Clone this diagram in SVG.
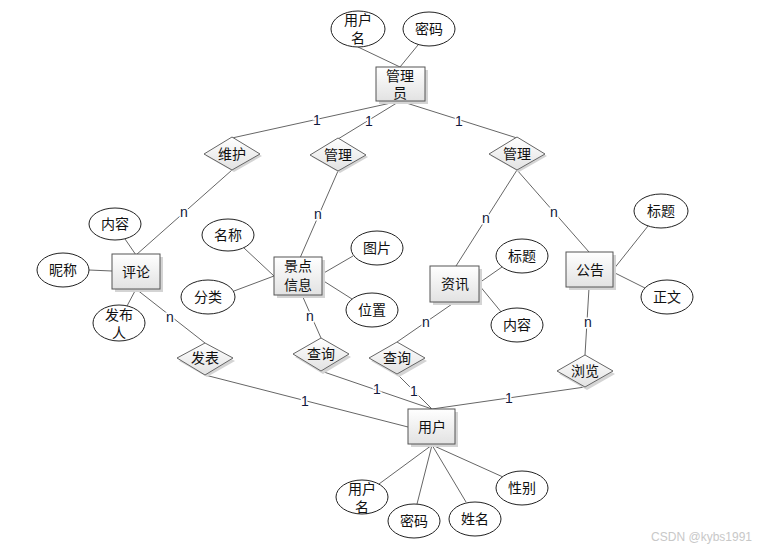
<svg xmlns="http://www.w3.org/2000/svg" width="768" height="550" viewBox="0 0 768 550">
<defs>
<linearGradient id="g" x1="0" y1="0" x2="0" y2="1"><stop offset="0" stop-color="#ffffff"/><stop offset="1" stop-color="#e2e2e2"/></linearGradient>
<style>
.e{fill:#fff;stroke:#222;stroke-width:1}
.b{fill:url(#g);stroke:#555;stroke-width:1}
.sh{fill:#d4d4d4}
.d{fill:url(#g);stroke:#666;stroke-width:1}
.t{font-family:"Liberation Sans","Noto Sans CJK SC",sans-serif;font-size:14px;fill:#111;text-anchor:middle;dominant-baseline:central}
.l{stroke:#666;stroke-width:1;fill:none}
.n{font-family:"Liberation Sans","Noto Sans CJK SC",sans-serif;font-size:14px;fill:#10183a;text-anchor:middle;dominant-baseline:central;stroke:#fff;stroke-width:3;paint-order:stroke}
.w{font-family:"Liberation Sans",sans-serif;font-size:12px;fill:#c8c8c8;text-anchor:end}
</style>
</defs>
<rect width="768" height="550" fill="#fff"/>
<g id="connectors">
<line class="l" x1="358" y1="47" x2="400" y2="67"/>
<line class="l" x1="418" y1="45" x2="400" y2="67"/>
<line class="l" x1="400" y1="101" x2="232" y2="138"/>
<line class="l" x1="400" y1="101" x2="338" y2="139"/>
<line class="l" x1="400" y1="101" x2="517" y2="138"/>
<line class="l" x1="232" y1="170" x2="136" y2="255"/>
<line class="l" x1="338" y1="171" x2="300" y2="258"/>
<line class="l" x1="517" y1="170" x2="456" y2="266"/>
<line class="l" x1="517" y1="170" x2="589" y2="252"/>
<line class="l" x1="125" y1="239" x2="136" y2="255"/>
<line class="l" x1="89" y1="270" x2="112" y2="271"/>
<line class="l" x1="127" y1="306" x2="136" y2="289"/>
<line class="l" x1="136" y1="289" x2="205" y2="343"/>
<line class="l" x1="205" y1="375" x2="408" y2="427"/>
<line class="l" x1="244" y1="248" x2="274" y2="276"/>
<line class="l" x1="234" y1="291" x2="274" y2="276"/>
<line class="l" x1="353" y1="256" x2="322" y2="274"/>
<line class="l" x1="352" y1="299" x2="322" y2="280"/>
<line class="l" x1="302" y1="295" x2="321" y2="338"/>
<line class="l" x1="321" y1="371" x2="432" y2="409"/>
<line class="l" x1="502" y1="267" x2="479" y2="283"/>
<line class="l" x1="502" y1="313" x2="479" y2="285"/>
<line class="l" x1="455" y1="302" x2="397" y2="342"/>
<line class="l" x1="397" y1="374" x2="432" y2="409"/>
<line class="l" x1="648" y1="226" x2="613" y2="270"/>
<line class="l" x1="645" y1="288" x2="613" y2="272"/>
<line class="l" x1="589" y1="288" x2="585" y2="355"/>
<line class="l" x1="585" y1="387" x2="432" y2="409"/>
<line class="l" x1="432" y1="445" x2="379" y2="484"/>
<line class="l" x1="432" y1="445" x2="417" y2="504"/>
<line class="l" x1="432" y1="445" x2="466" y2="502"/>
<line class="l" x1="432" y1="445" x2="503" y2="477"/>
<text class="n" x="317" y="120">1</text>
<text class="n" x="369" y="121">1</text>
<text class="n" x="459" y="121">1</text>
<text class="n" x="184" y="212">n</text>
<text class="n" x="318" y="214">n</text>
<text class="n" x="486" y="218">n</text>
<text class="n" x="554" y="212">n</text>
<text class="n" x="170" y="317">n</text>
<text class="n" x="310" y="316">n</text>
<text class="n" x="426" y="322">n</text>
<text class="n" x="588" y="322">n</text>
<text class="n" x="305" y="401">1</text>
<text class="n" x="377" y="389">1</text>
<text class="n" x="414" y="391">1</text>
<text class="n" x="509" y="398">1</text>
</g>
<g id="admin"><rect class="sh" x="379" y="70" width="49" height="34"/><rect class="b" x="376" y="67" width="49" height="34"/><text class="t" x="400" y="76">管理</text><text class="t" x="400" y="93">员</text></g>
<g id="admin-username"><ellipse class="e" cx="358" cy="29" rx="27" ry="18"/><text class="t" x="358" y="20">用户</text><text class="t" x="358" y="38">名</text></g>
<g id="admin-password"><ellipse class="e" cx="429" cy="29" rx="26" ry="17"/><text class="t" x="429" y="29">密码</text></g>
<g id="rel-weihu"><polygon class="sh" points="234,140 262,156 234,172 206,156"/><polygon class="d" points="232,137 260,154 232,170 204,154"/><text class="t" x="232" y="154">维护</text></g>
<g id="rel-guanli1"><polygon class="sh" points="340,141 368,157 340,173 312,157"/><polygon class="d" points="338,138 366,155 338,171 310,155"/><text class="t" x="338" y="155">管理</text></g>
<g id="rel-guanli2"><polygon class="sh" points="519,140 547,156 519,172 491,156"/><polygon class="d" points="517,137 545,154 517,170 489,154"/><text class="t" x="517" y="154">管理</text></g>
<g id="comment"><rect class="sh" x="115" y="257" width="48" height="35"/><rect class="b" x="112" y="254" width="48" height="35"/><text class="t" x="136" y="272">评论</text></g>
<g id="comment-content"><ellipse class="e" cx="115" cy="224" rx="26" ry="16"/><text class="t" x="115" y="224">内容</text></g>
<g id="comment-nick"><ellipse class="e" cx="63" cy="270" rx="26" ry="17"/><text class="t" x="63" y="270">昵称</text></g>
<g id="comment-author"><ellipse class="e" cx="119" cy="323" rx="26" ry="18"/><text class="t" x="119" y="315">发布</text><text class="t" x="119" y="333">人</text></g>
<g id="rel-fabiao"><polygon class="sh" points="207,346 235,361 207,377 179,361"/><polygon class="d" points="205,343 233,358 205,375 177,358"/><text class="t" x="205" y="358">发表</text></g>
<g id="scenic"><rect class="sh" x="277" y="260" width="48" height="38"/><rect class="b" x="274" y="257" width="48" height="38"/><text class="t" x="298" y="266">景点</text><text class="t" x="298" y="285">信息</text></g>
<g id="scenic-name"><ellipse class="e" cx="228" cy="235" rx="26" ry="16"/><text class="t" x="228" y="235">名称</text></g>
<g id="scenic-type"><ellipse class="e" cx="208" cy="297" rx="27" ry="17"/><text class="t" x="208" y="297">分类</text></g>
<g id="scenic-pic"><ellipse class="e" cx="377" cy="248" rx="26" ry="17"/><text class="t" x="377" y="248">图片</text></g>
<g id="scenic-loc"><ellipse class="e" cx="372" cy="310" rx="26" ry="17"/><text class="t" x="372" y="310">位置</text></g>
<g id="rel-query1"><polygon class="sh" points="323,341 351,357 323,374 295,357"/><polygon class="d" points="321,338 349,354 321,371 293,354"/><text class="t" x="321" y="354">查询</text></g>
<g id="news"><rect class="sh" x="433" y="269" width="49" height="36"/><rect class="b" x="430" y="266" width="49" height="36"/><text class="t" x="455" y="284">资讯</text></g>
<g id="news-title"><ellipse class="e" cx="522" cy="256" rx="26" ry="17"/><text class="t" x="522" y="256">标题</text></g>
<g id="news-content"><ellipse class="e" cx="517" cy="325" rx="26" ry="17"/><text class="t" x="517" y="325">内容</text></g>
<g id="rel-query2"><polygon class="sh" points="399,345 427,361 399,377 371,361"/><polygon class="d" points="397,342 425,358 397,374 369,358"/><text class="t" x="397" y="358">查询</text></g>
<g id="notice"><rect class="sh" x="569" y="255" width="47" height="35"/><rect class="b" x="566" y="252" width="47" height="35"/><text class="t" x="590" y="270">公告</text></g>
<g id="notice-title"><ellipse class="e" cx="661" cy="211" rx="27" ry="17"/><text class="t" x="661" y="211">标题</text></g>
<g id="notice-body"><ellipse class="e" cx="667" cy="297" rx="26" ry="17"/><text class="t" x="667" y="297">正文</text></g>
<g id="rel-browse"><polygon class="sh" points="587,358 615,374 587,390 559,374"/><polygon class="d" points="585,355 613,371 585,387 557,371"/><text class="t" x="585" y="371">浏览</text></g>
<g id="user"><rect class="sh" x="411" y="412" width="47" height="35"/><rect class="b" x="408" y="409" width="47" height="35"/><text class="t" x="432" y="427">用户</text></g>
<g id="user-username"><ellipse class="e" cx="362" cy="497" rx="26" ry="17"/><text class="t" x="362" y="489">用户</text><text class="t" x="362" y="507">名</text></g>
<g id="user-password"><ellipse class="e" cx="414" cy="521" rx="26" ry="17"/><text class="t" x="414" y="521">密码</text></g>
<g id="user-name"><ellipse class="e" cx="475" cy="519" rx="26" ry="17"/><text class="t" x="475" y="519">姓名</text></g>
<g id="user-gender"><ellipse class="e" cx="522" cy="488" rx="26" ry="17"/><text class="t" x="522" y="488">性别</text></g>
<text class="w" x="752" y="541">CSDN @kybs1991</text>
</svg>
